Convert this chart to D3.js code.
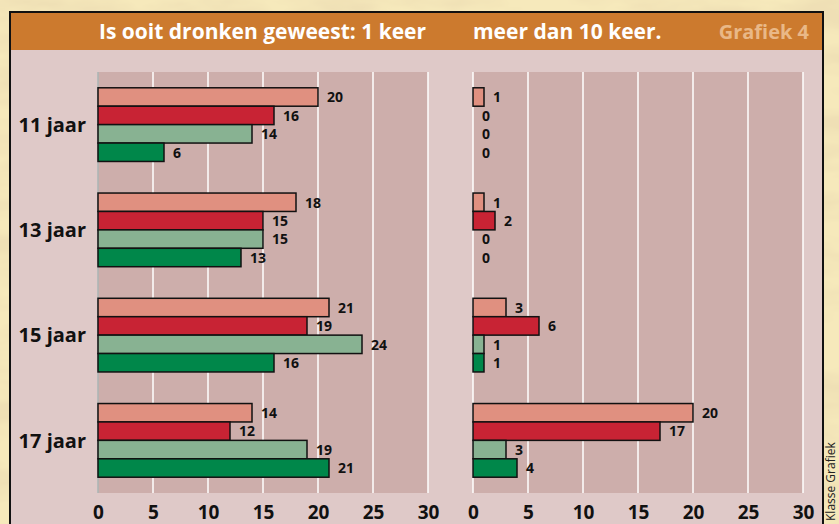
<!DOCTYPE html>
<html lang="nl">
<head>
    <meta charset="UTF-8">
    <title>Grafiek 4</title>
    <script src="https://cdn.jsdelivr.net/npm/d3@7/dist/d3.min.js"></script>
    <style>
        body, html { margin: 0; padding: 0; overflow: hidden; background: #f3e4b0; }
        svg { display: block; font-family: "Open Sans", sans-serif; }
    </style>
</head>
<body>
    <svg id="mainsvg"></svg>
    <script>
        // data
        const ages = ['11 jaar', '13 jaar', '15 jaar', '17 jaar'];
        const series = ['s1', 's2', 's3', 's4'];
        const colors = ['#e09080', '#c82334', '#88b292', '#00874a'];
        const onceValues = [
            [20, 16, 14, 6],
            [18, 15, 15, 13],
            [21, 19, 24, 16],
            [14, 12, 19, 21]
        ];
        const moreThanTenValues = [
            [1, 0, 0, 0],
            [1, 2, 0, 0],
            [3, 6, 1, 1],
            [20, 17, 3, 4]
        ];
        const tickValues = [0, 5, 10, 15, 20, 25, 30];
        const titleLeft = 'Is ooit dronken geweest: 1 keer';
        const titleRight = 'meer dan 10 keer.';
        const titleTag = 'Grafiek 4';
        const credit = 'Klasse Grafiek';

        const width = 839, height = 524;
        const svg = d3.select('svg').attr('width', width).attr('height', height);

        // parchment texture
        const defs = svg.append('defs');
        const f = defs.append('filter').attr('id', 'paper')
            .attr('filterUnits', 'userSpaceOnUse').attr('x', 0).attr('y', 0).attr('width', width).attr('height', height);
        f.append('feTurbulence').attr('type', 'fractalNoise').attr('baseFrequency', '0.01 0.03').attr('numOctaves', 4).attr('seed', 7).attr('result', 'n');
        f.append('feColorMatrix').attr('in', 'n').attr('type', 'matrix')
            .attr('values', '0 0 0 0 0.86  0 0 0 0 0.74  0 0 0 0 0.46  3 0 0 0 -1.2');
        svg.append('rect').attr('width', width).attr('height', height).attr('fill', '#f6e9bb');
        svg.append('rect').attr('width', width).attr('height', height).attr('fill', '#fff').attr('filter', 'url(#paper)');

        // frame
        const frame = { x: 10, y: 12, w: 813, h: 530 };
        svg.append('rect').attr('x', frame.x).attr('y', frame.y).attr('width', frame.w).attr('height', frame.h)
            .attr('fill', '#dfc9c8').attr('stroke', '#111').attr('stroke-width', 2);
        svg.append('rect').attr('x', frame.x + 1).attr('y', frame.y + 1).attr('width', frame.w - 2).attr('height', 37)
            .attr('fill', '#cc7a2e');

        svg.append('text').attr('x', 99).attr('y', 39).attr('fill', 'white')
            .attr('font-size', 21).attr('font-weight', 700).text(titleLeft);
        svg.append('text').attr('x', 473).attr('y', 39).attr('fill', 'white')
            .attr('font-size', 21).attr('font-weight', 700).text(titleRight);
        svg.append('text').attr('x', 809).attr('y', 39).attr('fill', '#e9b887').attr('text-anchor', 'end')
            .attr('font-size', 20).attr('font-weight', 700).text(titleTag);

        svg.append('text').attr('transform', 'translate(835, 521) rotate(-90)').attr('fill', '#222')
            .attr('font-size', 12).text(credit);

        // scales
        const plotTop = 72, plotBottom = 493;
        const yScale = d3.scaleBand().domain(ages).range([plotTop, plotBottom]).paddingInner(0.3).paddingOuter(0.15);
        const ySub = d3.scaleBand().domain(series).range([0, yScale.bandwidth()]);

        function panel(x0, values, zeroColor) {
            const xScale = d3.scaleLinear().domain([0, 30]).range([x0, x0 + 330]);
            const g = svg.append('g');
            g.append('rect').attr('x', x0).attr('y', plotTop).attr('width', 330).attr('height', plotBottom - plotTop).attr('fill', '#cdaeab');

            g.selectAll('.grid').data(tickValues).join('line')
                .attr('x1', d => xScale(d)).attr('x2', d => xScale(d))
                .attr('y1', plotTop).attr('y2', plotBottom)
                .attr('stroke', d => d === 0 ? zeroColor : '#fff').attr('stroke-width', 1.5);

            const axis = d3.axisBottom(xScale).tickValues(tickValues).tickSize(0).tickPadding(0);
            const ax = g.append('g').attr('transform', `translate(0, ${plotBottom})`).call(axis);
            ax.select('.domain').remove();
            ax.selectAll('text').attr('font-size', 19).attr('font-weight', 700).attr('fill', '#111')
                .attr('font-family', '"Open Sans", sans-serif').attr('dy', 0).attr('y', 26);

            ages.forEach((age, i) => {
                const grp = g.append('g').attr('transform', `translate(0, ${yScale(age)})`);
                const rows = series.map((s, j) => ({ s, v: values[i][j], c: colors[j] }));
                grp.selectAll('rect').data(rows).join('rect')
                    .attr('x', xScale(0)).attr('y', d => ySub(d.s))
                    .attr('width', d => xScale(d.v) - xScale(0)).attr('height', ySub.bandwidth())
                    .attr('fill', d => d.c).attr('stroke', '#111').attr('stroke-width', 1.5);
                grp.selectAll('text').data(rows).join('text')
                    .attr('x', d => xScale(d.v) + 9).attr('y', d => ySub(d.s) + ySub.bandwidth() / 2)
                    .attr('dy', '0.38em').attr('font-size', 14).attr('font-weight', 700).attr('fill', '#111')
                    .text(d => d.v);
            });
        }

        panel(98, onceValues, '#aab4b4');
        panel(473, moreThanTenValues, '#fff');

        svg.append('g').selectAll('text').data(ages).join('text')
            .attr('x', 86).attr('y', d => yScale(d) + yScale.bandwidth() / 2)
            .attr('dy', '0.36em').attr('text-anchor', 'end')
            .attr('font-size', 20).attr('font-weight', 700).attr('fill', '#111')
            .text(d => d);
    </script>
</body>
</html>
